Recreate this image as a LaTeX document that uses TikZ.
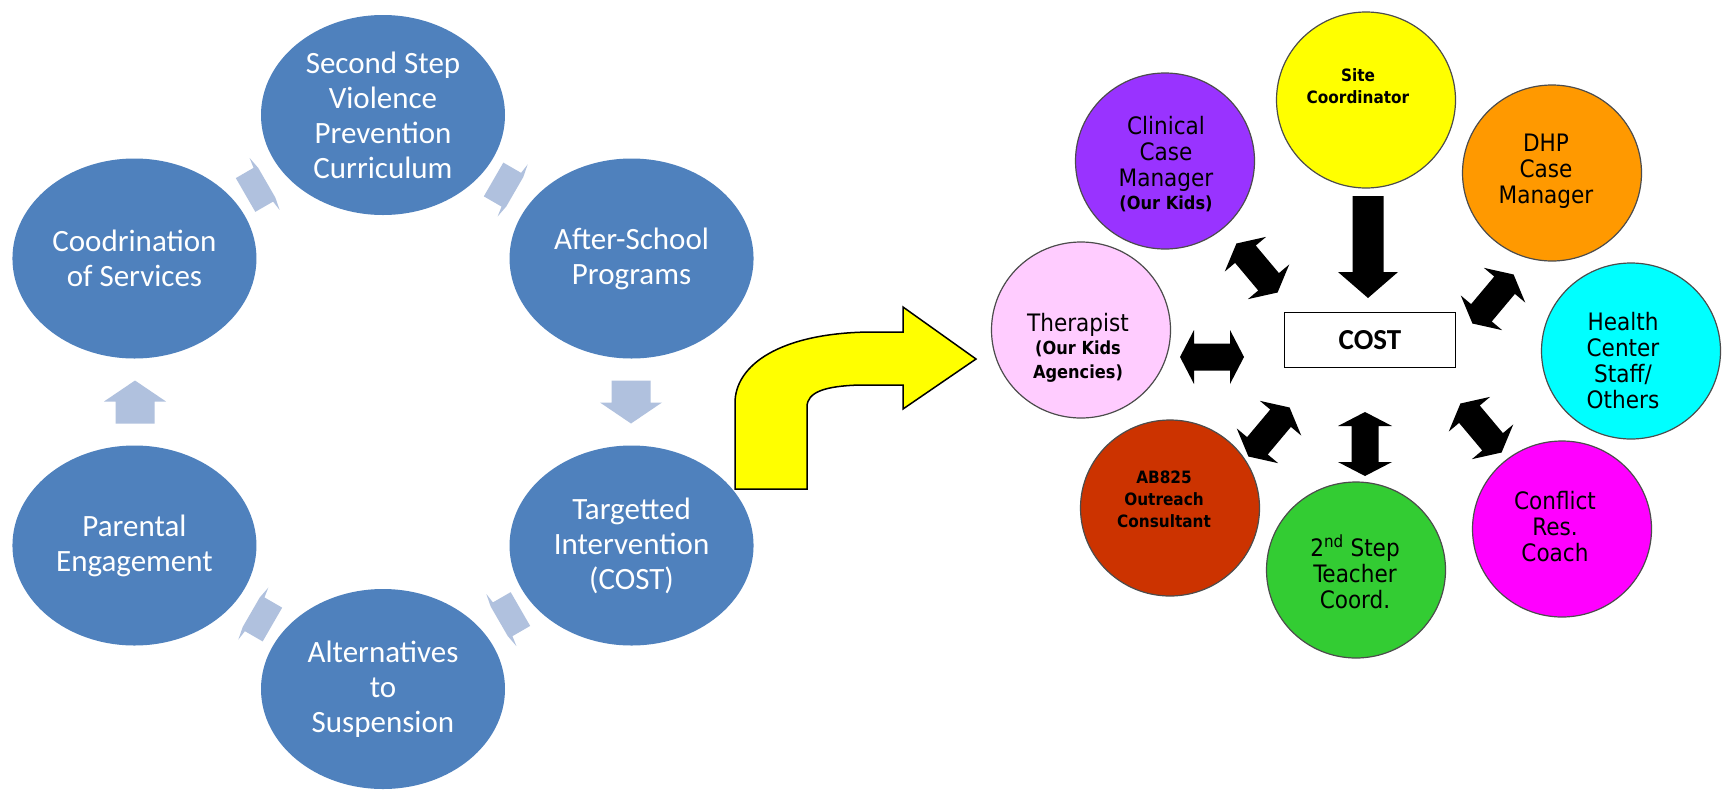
\documentclass[tikz,border=0pt]{standalone}
\usepackage{fontspec}
\usetikzlibrary{calc,shapes.geometric}
\newfontfamily\calfont{Carlito}
\newfontfamily\tahfont{DejaVu Sans Condensed}
\definecolor{cycblue}{HTML}{4F81BD}
\definecolor{cycarrow}{HTML}{B0C1DE}
\definecolor{cpurple}{HTML}{9933FF}
\definecolor{corange}{HTML}{FF9900}
\definecolor{cpink}{HTML}{FFCCFF}
\definecolor{ccyan}{HTML}{00FFFF}
\definecolor{cred}{HTML}{CC3300}
\definecolor{cgreen}{HTML}{33CC33}
\definecolor{cmagenta}{HTML}{FF00FF}
\definecolor{cyellow}{HTML}{FFFF00}
\tikzset{
  cyc/.style={ellipse, fill=cycblue, minimum width=244pt, minimum height=200pt, inner sep=0pt},
  cyctext/.style={text=white, align=center, font=\calfont\fontsize{31}{35}\selectfont},
  member/.style={ellipse, draw=black!70, line width=1.2pt, minimum width=179pt, minimum height=176pt, inner sep=0pt},
  bigtext/.style={align=center, font=\tahfont\fontsize{24}{26}\selectfont},
  smalltext/.style={align=center, font=\tahfont\bfseries\fontsize{17}{22}\selectfont},
  pics/cycarrow/.style={code={\fill[cycarrow] (-21.5,-19.5) -- (0.5,-19.5) -- (0.5,-31) -- (21.5,0) -- (0.5,31) -- (0.5,19.5) -- (-21.5,19.5) -- cycle;}},
  pics/cycdiag/.style={code={\fill[cycarrow] (-15.5,-19.5) -- (5,-19.5) -- (6.5,-30) -- (9,-17) -- (9,17) -- (6.5,30) -- (5,19.5) -- (-15.5,19.5) -- cycle;}},
  pics/dblarrow/.style={code={\fill[black] (-32,0) -- (-18,27) -- (-18,13.5) -- (18,13.5) -- (18,27) -- (32,0) -- (18,-27) -- (18,-13.5) -- (-18,-13.5) -- (-18,-27) -- cycle;}},
  pics/downarrow/.style={code={\fill[black] (-15.5,51) -- (15.5,51) -- (15.5,-25) -- (30,-25) -- (0,-51) -- (-30,-25) -- (-15.5,-25) -- cycle;}},
}
\begin{document}
\begin{tikzpicture}[x=1pt,y=1pt]
\fill[white] (0,0) rectangle (1722,-793);
\useasboundingbox (0,0) rectangle (1722,-793);
% ---------- left cycle ----------
\coordinate (C) at (383,-402);
\foreach \a in {0,180}{
  \pic[rotate=\a-90] at ($(C)+(\a:248)$) {cycarrow};
}
\foreach \a in {60,120,240,300}{
  \pic[rotate=\a-90] at ($(C)+(\a:248)$) {cycdiag};
}
\node[cyc] (ss) at ($(C)+(90:287)$) {};
\node[cyc] (as) at ($(C)+(30:287)$) {};
\node[cyc] (ti) at ($(C)+(-30:287)$) {};
\node[cyc] (alt) at ($(C)+(-90:287)$) {};
\node[cyc] (pe) at ($(C)+(-150:287)$) {};
\node[cyc] (cs) at ($(C)+(150:287)$) {};
\node[cyctext] (ssT) at (ss) {Second Step\\Violence\\Prevention\\Curriculum};
\node[cyctext] (asT) at (as) {After-School\\Programs};
\node[cyctext] (tiT) at (ti) {Targetted\\Intervention\\(COST)};
\node[cyctext] (altT) at (alt) {Alternatives\\to\\Suspension};
\node[cyctext] (peT) at (pe) {Parental\\Engagement};
\node[cyctext] (csT) at (cs) {Coodrination\\of Services};
% ---------- yellow bent arrow ----------
\draw[fill=cyellow, line width=1.5pt, line join=miter]
  (735,-489) -- (735,-403) .. controls (735,-365) and (780,-333) .. (870,-332)
  -- (903,-332) -- (903,-307) -- (976,-359) -- (903,-409) -- (903,-385) -- (860,-385)
  .. controls (825,-386) and (807,-392) .. (807,-407) -- (807,-489) -- cycle;
% ---------- right cluster ----------
\node[member, fill=cyellow] (site) at (1366,-100) {};
\node[member, fill=cpurple] (clin) at (1165,-161) {};
\node[member, fill=corange] (dhp) at (1552,-173) {};
\node[member, fill=cpink] (ther) at (1081,-330) {};
\node[member, fill=ccyan] (hc) at (1631,-351) {};
\node[member, fill=cred] (ab) at (1170,-508) {};
\node[member, fill=cgreen] (step) at (1356,-570) {};
\node[member, fill=cmagenta] (conf) at (1562,-529) {};
\node[draw, line width=1.6pt, fill=white, minimum width=171pt, minimum height=55pt, inner sep=0pt,
      font=\calfont\bfseries\fontsize{29}{30}\selectfont] (cost) at (1370,-340) {COST};
\node[smalltext] (siteT) at (1358,-86) {Site\\Coordinator};
\node[bigtext] (clinT) at (1166,-164) {Clinical\\Case\\Manager\\[-3pt]{\bfseries\fontsize{18}{22}\selectfont (Our Kids)}};
\node[bigtext] (dhpT) at (1546,-171) {DHP\\Case\\Manager};
\node[bigtext] (therT) at (1078,-348) {Therapist\\[-3pt]{\bfseries\fontsize{18}{22}\selectfont (Our Kids}\\[-2pt]{\bfseries\fontsize{18}{22}\selectfont Agencies)}};
\node[bigtext] (hcT) at (1623,-361) {Health\\Center\\Staff/\\Others};
\node[smalltext] (abT) at (1164,-499) {AB825\\Outreach\\Consultant};
\node[bigtext] (stepT) at (1355,-572) {2\textsuperscript{nd} Step\\Teacher\\Coord.};
\node[bigtext] (confT) at (1555,-527) {Conflict\\Res.\\Coach};
% ---------- block connectors ----------
\pic at (1368,-247) {downarrow};
\pic[rotate=-50] at (1257,-268) {dblarrow};
\pic[rotate=50] at (1493,-299) {dblarrow};
\pic[rotate=0] at (1212,-357) {dblarrow};
\pic[rotate=50] at (1269,-432) {dblarrow};
\pic[rotate=90] at (1365,-444) {dblarrow};
\pic[rotate=-50] at (1481,-428) {dblarrow};
\end{tikzpicture}
\end{document}
